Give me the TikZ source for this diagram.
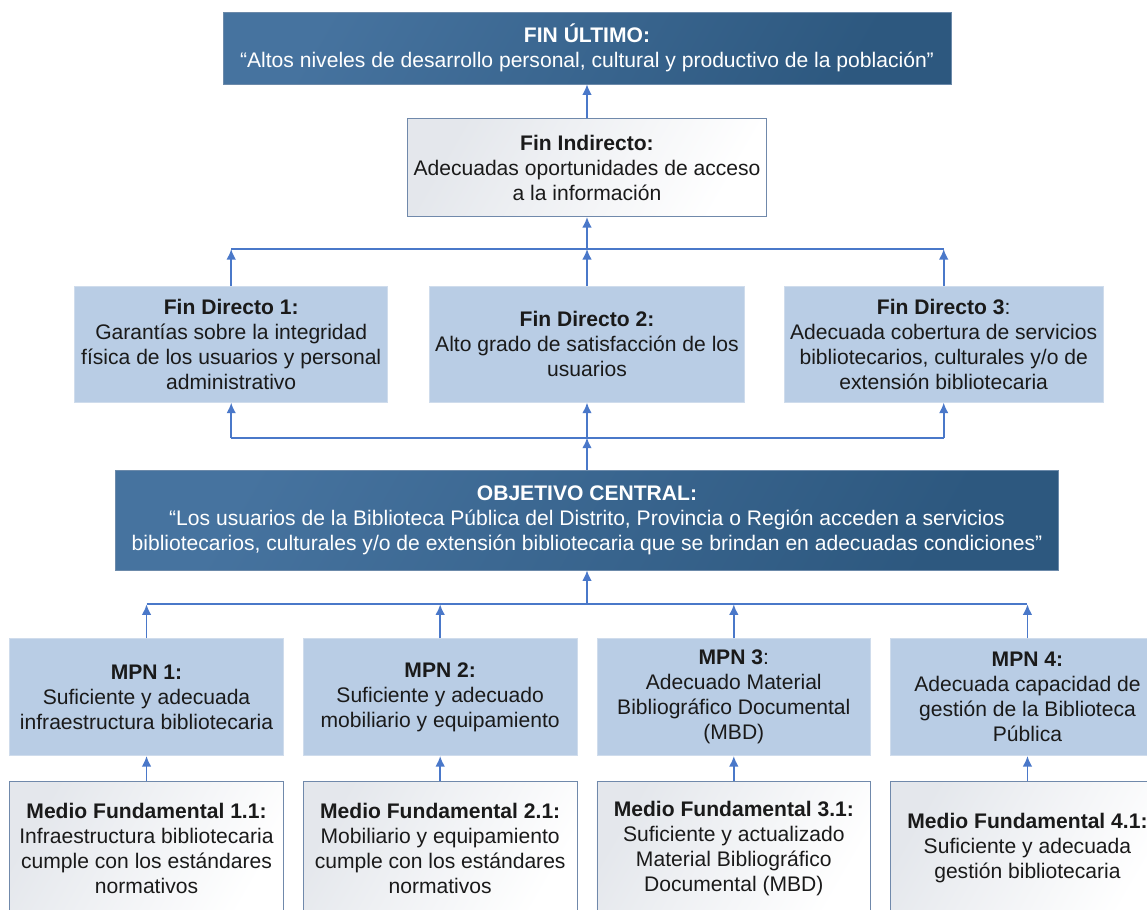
\documentclass[tikz,border=0pt]{standalone}
\usepackage{xcolor}
\usepackage{fontspec}
\setmainfont{Liberation Sans}
\usepackage{tikz}
\usetikzlibrary{shapes,arrows.meta,positioning}

\definecolor{darktop}{HTML}{46739F}
\definecolor{darkbottom}{HTML}{2D587F}
\definecolor{darkedge}{HTML}{6C8AAA}
\definecolor{paleblue}{HTML}{B9CDE5}
\definecolor{paleedge}{HTML}{CFDCEC}
\definecolor{greyfill}{HTML}{E4E7EC}
\definecolor{greyedge}{HTML}{7089AB}
\definecolor{linkblue}{HTML}{4A78C9}
\definecolor{inkdark}{HTML}{1A1A1A}

\tikzstyle{arrow} = [line width=1pt,draw=linkblue,-{Latex[length=6pt,width=5.5pt]}]
\tikzstyle{link} = [line width=1pt,draw=linkblue]
\tikzstyle{boxtext} = [align=center,font=\fontsize{12}{14.2}\selectfont]
\tikzstyle{darkbox} = [boxtext,draw=darkedge,rectangle,left color=darktop,right color=darkbottom,shading angle=60,text=white]
\tikzstyle{palebox} = [boxtext,draw=paleedge,rectangle,fill=paleblue,text=inkdark]
\tikzstyle{greybox} = [boxtext,draw=greyedge,rectangle,left color=greyfill,right color=white,shading angle=60,text=inkdark]

\begin{document}
\begin{tikzpicture}[x=0.02cm,y=-0.02cm]
        \useasboundingbox (0,0) rectangle (1147,910);
        \clip (0,0) rectangle (1147,910);

        % Define nodes
        \node[darkbox,
        minimum width=14.56cm,
        minimum height=1.44cm] (fu) at (587,48)
        {\textbf{FIN ÚLTIMO:}\\“Altos niveles de desarrollo personal, cultural y productivo de la población”};

        \node[greybox,
        below=0.68cm of fu,
        minimum width=7.14cm,
        minimum height=1.96cm] (fi)
        {\textbf{Fin Indirecto:}\\Adecuadas oportunidades de acceso\\a la información};

        \node[palebox,
        below=1.38cm of fi,
        minimum width=6.26cm,
        minimum height=2.32cm] (fd2)
        {\textbf{Fin Directo 2:}\\Alto grado de satisfacción de los\\usuarios};

        \node[palebox,
        left=0.82cm of fd2,
        minimum width=6.26cm,
        minimum height=2.32cm] (fd1)
        {\textbf{Fin Directo 1:}\\Garantías sobre la integridad\\física de los usuarios y personal\\administrativo};

        \node[palebox,
        right=0.78cm of fd2,
        minimum width=6.26cm,
        minimum height=2.32cm] (fd3)
        {\textbf{Fin Directo 3}:\\Adecuada cobertura de servicios\\bibliotecarios, culturales y/o de\\extensión bibliotecaria};

        \node[darkbox,
        below=1.34cm of fd2,
        minimum width=18.86cm,
        minimum height=2cm] (oc)
        {\textbf{OBJETIVO CENTRAL:}\\“Los usuarios de la Biblioteca Pública del Distrito, Provincia o Región acceden a servicios\\bibliotecarios, culturales y/o de extensión bibliotecaria que se brindan en adecuadas condiciones”};

        \node[palebox,
        below left=1.36cm and 0.19cm of oc.south,
        minimum width=5.48cm,
        minimum height=2.34cm] (mpn2)
        {\textbf{MPN 2:}\\Suficiente y adecuado\\mobiliario y equipamiento};

        \node[palebox,
        left=0.38cm of mpn2,
        minimum width=5.48cm,
        minimum height=2.34cm] (mpn1)
        {\textbf{MPN 1:}\\Suficiente y adecuada\\infraestructura bibliotecaria};

        \node[palebox,
        below right=1.36cm and 0.19cm of oc.south,
        minimum width=5.48cm,
        minimum height=2.34cm] (mpn3)
        {\textbf{MPN 3}:\\Adecuado Material\\Bibliográfico Documental\\(MBD)};

        \node[palebox,
        right=0.38cm of mpn3,
        minimum width=5.48cm,
        minimum height=2.34cm] (mpn4)
        {\textbf{MPN 4:}\\Adecuada capacidad de\\gestión de la Biblioteca\\Pública};

        \node[greybox,
        below=0.5cm of mpn1,
        minimum width=5.48cm,
        minimum height=2.68cm] (mf1)
        {\textbf{Medio Fundamental 1.1:}\\Infraestructura bibliotecaria\\cumple con los estándares\\normativos};

        \node[greybox,
        below=0.5cm of mpn2,
        minimum width=5.48cm,
        minimum height=2.68cm] (mf2)
        {\textbf{Medio Fundamental 2.1:}\\Mobiliario y equipamiento\\cumple con los estándares\\normativos};

        \node[greybox,
        below=0.5cm of mpn3,
        minimum width=5.48cm,
        minimum height=2.68cm] (mf3)
        {\textbf{Medio Fundamental 3.1:}\\Suficiente y actualizado\\Material Bibliográfico\\Documental (MBD)};

        \node[greybox,
        below=0.5cm of mpn4,
        minimum width=5.48cm,
        minimum height=2.68cm] (mf4)
        {\textbf{Medio Fundamental 4.1:}\\Suficiente y adecuada\\gestión bibliotecaria};

        % Junction lines
        \coordinate[below=0.64cm of fi.south] (busfin);
        \coordinate[below=0.7cm of fd2.south] (busobj);
        \coordinate[below=0.68cm of oc.south] (busmpn);

        \draw [arrow] (fi) -- (fu);
        \draw [arrow] (busfin) -- (fi);
        \draw [link] (fd1.north |- busfin) -- (fd3.north |- busfin);
        \foreach \n in {fd1,fd2,fd3}
            \draw [arrow] (\n) -- (\n.north |- busfin);

        \draw [link] (fd1.south |- busobj) -- (fd3.south |- busobj);
        \foreach \n in {fd1,fd2,fd3}
            \draw [arrow] (\n.south |- busobj) -- (\n);
        \draw [arrow] (oc) -- (busobj);

        \draw [arrow] (busmpn) -- (oc);
        \draw [link] (mpn1.north |- busmpn) -- (mpn4.north |- busmpn);
        \foreach \n in {mpn1,mpn2,mpn3,mpn4}
            \draw [arrow] (\n) -- (\n.north |- busmpn);

        \foreach \i in {1,...,4}
            \draw [arrow] (mf\i) -- (mpn\i);

\end{tikzpicture}
\end{document}
